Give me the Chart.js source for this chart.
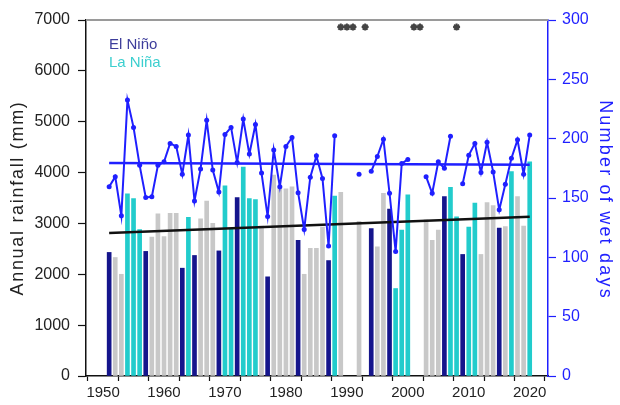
<!DOCTYPE html>
<html>
<head>
<meta charset="utf-8">
<script src="https://cdn.jsdelivr.net/npm/chart.js@4.4.1/dist/chart.umd.min.js"></script>
<style>
  html, body { margin: 0; padding: 0; background: #fff; }
</style>
</head>
<body>
<canvas id="chart" width="620" height="405"></canvas>
<script>
// years of record
const years = [1951, 1952, 1953, 1954, 1955, 1956, 1957, 1958, 1959, 1960,
    1961, 1962, 1963, 1964, 1965, 1966, 1967, 1968, 1969, 1970,
    1971, 1972, 1973, 1974, 1975, 1976, 1977, 1978, 1979, 1980,
    1981, 1982, 1983, 1984, 1985, 1986, 1987, 1988, 1989, 1990,
    1991, 1992, 1993, 1994, 1995, 1996, 1997, 1998, 1999, 2000,
    2001, 2002, 2003, 2004, 2005, 2006, 2007, 2008, 2009, 2010,
    2011, 2012, 2013, 2014, 2015, 2016, 2017, 2018, 2019, 2020];

// annual rainfall (mm), null = missing
const rainfall = [2430, 2330, 2000, 3580, 3490, 2880, 2450, 2730, 3190, 2740,
    3200, 3200, 2120, 3120, 2370, 3090, 3440, 3000, 2460, 3740,
    2900, 3510, 4110, 3490, 3470, 2950, 1950, 3950, 3720, 3680,
    3720, 2670, 2000, 2510, 2510, 2930, 2270, 3540, 3610, null,
    null, 3040, null, 2900, 2540, 3590, 3280, 1720, 2870, 3560,
    null, null, 3070, 2670, 2870, 3530, 3710, 3130, 2390, 2930,
    3400, 2390, 3410, 3350, 2910, 2940, 4020, 3530, 2950, 4210];

// E = El Niño, L = La Niña, N = neutral
const phase = ['E', 'N', 'N', 'L', 'L', 'L', 'E', 'N', 'N', 'N',
    'N', 'N', 'E', 'L', 'E', 'N', 'N', 'N', 'E', 'L',
    'L', 'E', 'L', 'L', 'L', 'N', 'E', 'N', 'N', 'N',
    'N', 'E', 'N', 'N', 'N', 'N', 'E', 'L', 'N', 'N',
    'N', 'N', 'N', 'E', 'N', 'N', 'E', 'L', 'L', 'L',
    'N', 'N', 'N', 'N', 'N', 'E', 'L', 'L', 'E', 'L',
    'L', 'N', 'N', 'N', 'E', 'N', 'L', 'N', 'N', 'L'];

// number of wet days, null = missing
const wetDays = [159.5, 168, 135, 232.5, 209.5, 177.5, 150.5, 151, 177.5, 180.5,
    196, 193.5, 170, 203, 147.5, 174.5, 215.5, 173.5, 155, 203.5,
    209.5, 180, 216.5, 187, 212, 171, 134.5, 190.5, 159.5, 193.5,
    201, 154.5, 123.5, 167.5, 185.5, 166.5, 109.5, 202.5, null, null,
    null, 170, null, 172.5, 185, 199.5, 154, 105, 179, 182.5,
    null, null, 168, 154, 180.5, 175, 202, null, 162, 186,
    196, 171.5, 197, 172, 140, 161.5, 183.5, 199, 170, 203];

// linear trends (start 1951, end 2020)
const trendYears = [1951, 2020];
const rainTrend = [2810, 3130];
const wetTrend = [179.5, 178];

// years flagged with an asterisk at the top
const starYears = [1989, 1990, 1991, 1993, 2001, 2002, 2008];
const starLevel = 6860;

const xTicks = [1950, 1955, 1960, 1965, 1970, 1975, 1980, 1985, 1990, 1995,
    2000, 2005, 2010, 2015, 2020];

const phaseColors = { E: '#15158c', L: '#22cccc', N: '#c8c8c8' };
const FONT = '"Liberation Sans", Arial, sans-serif';
const BLUE = '#1f1fff';

// top frame line, legend text and the two axis titles
const frame = {
    id: 'frame',
    afterDraw: (chart) => {
        const { ctx, chartArea } = chart;
        ctx.save();
        ctx.strokeStyle = '#9a9a9a';
        ctx.lineWidth = 2;
        ctx.beginPath();
        ctx.moveTo(chartArea.left, chartArea.top);
        ctx.lineTo(chartArea.right, chartArea.top);
        ctx.stroke();

        ctx.font = '15px ' + FONT;
        ctx.textBaseline = 'middle';
        ctx.fillStyle = '#3d3d9b';
        ctx.fillText('El Niño', chartArea.left + 23, chartArea.top + 25);
        ctx.fillStyle = '#3ccfcf';
        ctx.fillText('La Niña', chartArea.left + 23, chartArea.top + 43);
        ctx.restore();

        const midY = (chartArea.top + chartArea.bottom) / 2;
        ctx.save();
        ctx.font = '18px ' + FONT;
        ctx.letterSpacing = '1.7px';
        ctx.textAlign = 'center';
        ctx.textBaseline = 'middle';
        ctx.fillStyle = '#222';
        ctx.translate(18, midY);
        ctx.rotate(-Math.PI / 2);
        ctx.fillText('Annual rainfall (mm)', 0, 0);
        ctx.restore();

        ctx.save();
        ctx.font = '18px ' + FONT;
        ctx.letterSpacing = '2.2px';
        ctx.textAlign = 'center';
        ctx.textBaseline = 'middle';
        ctx.fillStyle = BLUE;
        ctx.translate(605, midY + 2);
        ctx.rotate(Math.PI / 2);
        ctx.fillText('Number of wet days', 0, 0);
        ctx.restore();
    }
};

const ctx = document.getElementById('chart');
const myChart = new Chart(ctx, {
    type: 'bar',
    data: {
        datasets: [{
            type: 'line',
            label: 'Wet days',
            data: years.map((y, i) => ({ x: y, y: wetDays[i] })),
            yAxisID: 'y2',
            borderColor: BLUE,
            backgroundColor: BLUE,
            borderWidth: 2,
            pointRadius: 2.5,
            pointBorderWidth: 0,
            spanGaps: false,
            tension: 0,
            order: 0,
        }, {
            type: 'line',
            label: 'Wet days trend',
            data: trendYears.map((y, i) => ({ x: y, y: wetTrend[i] })),
            yAxisID: 'y2',
            borderColor: BLUE,
            borderWidth: 2.5,
            pointRadius: 0,
            order: 1,
        }, {
            type: 'line',
            label: 'Rainfall trend',
            data: trendYears.map((y, i) => ({ x: y, y: rainTrend[i] })),
            yAxisID: 'y',
            borderColor: '#111',
            borderWidth: 2.5,
            pointRadius: 0,
            order: 2,
        }, {
            type: 'scatter',
            label: 'Flag',
            data: starYears.map(y => ({ x: y, y: starLevel })),
            yAxisID: 'y',
            pointStyle: 'star',
            pointRadius: 3.5,
            borderColor: '#444',
            backgroundColor: '#444',
            borderWidth: 2,
            order: 3,
        }, {
            type: 'bar',
            label: 'Rainfall',
            data: years.map((y, i) => ({ x: y, y: rainfall[i] })),
            yAxisID: 'y',
            backgroundColor: phase.map(p => phaseColors[p]),
            barThickness: 4,
            order: 4,
        }],
    },
    options: {
        responsive: false,
        animation: false,
        devicePixelRatio: 1,
        layout: { padding: { top: 20, left: 0, right: 0, bottom: 0 } },
        plugins: {
            legend: { display: false },
            tooltip: { enabled: false },
        },
        scales: {
            x: {
                type: 'linear',
                offset: false,
                min: 1947.2,
                max: 2023,
                afterFit: (scale) => { scale.height = 29; },
                afterBuildTicks: (scale) => {
                    scale.ticks = xTicks.map(v => ({ value: v }));
                },
                grid: { drawOnChartArea: false, drawTicks: true, tickLength: 5, tickColor: '#111', tickWidth: 1.2 },
                border: { display: true, color: '#111', width: 1.5 },
                ticks: {
                    autoSkip: false,
                    maxRotation: 0,
                    padding: 3,
                    color: '#222',
                    font: { family: FONT, size: 15 },
                    callback: (v) => (v % 10 === 0 ? String(v) : ''),
                },
            },
            y: {
                position: 'left',
                min: 0,
                max: 7000,
                afterFit: (scale) => { scale.width = 86; },
                grid: { drawOnChartArea: false, drawTicks: true, tickLength: 8, tickColor: '#111', tickWidth: 1.2 },
                border: { display: true, color: '#111', width: 1.5 },
                ticks: {
                    stepSize: 1000,
                    padding: 8,
                    color: '#222',
                    font: { family: FONT, size: 16 },
                    callback: (v) => String(v),
                },
            },
            y2: {
                position: 'right',
                min: 0,
                max: 300,
                afterFit: (scale) => { scale.width = 72; },
                grid: { drawOnChartArea: false, drawTicks: true, tickLength: 8, tickColor: BLUE, tickWidth: 1.2 },
                border: { display: true, color: BLUE, width: 1.5 },
                ticks: {
                    stepSize: 50,
                    padding: 6,
                    color: BLUE,
                    font: { family: FONT, size: 16 },
                    callback: (v) => String(v),
                },
            },
        },
    },
    plugins: [frame],
});
</script>
</body>
</html>
